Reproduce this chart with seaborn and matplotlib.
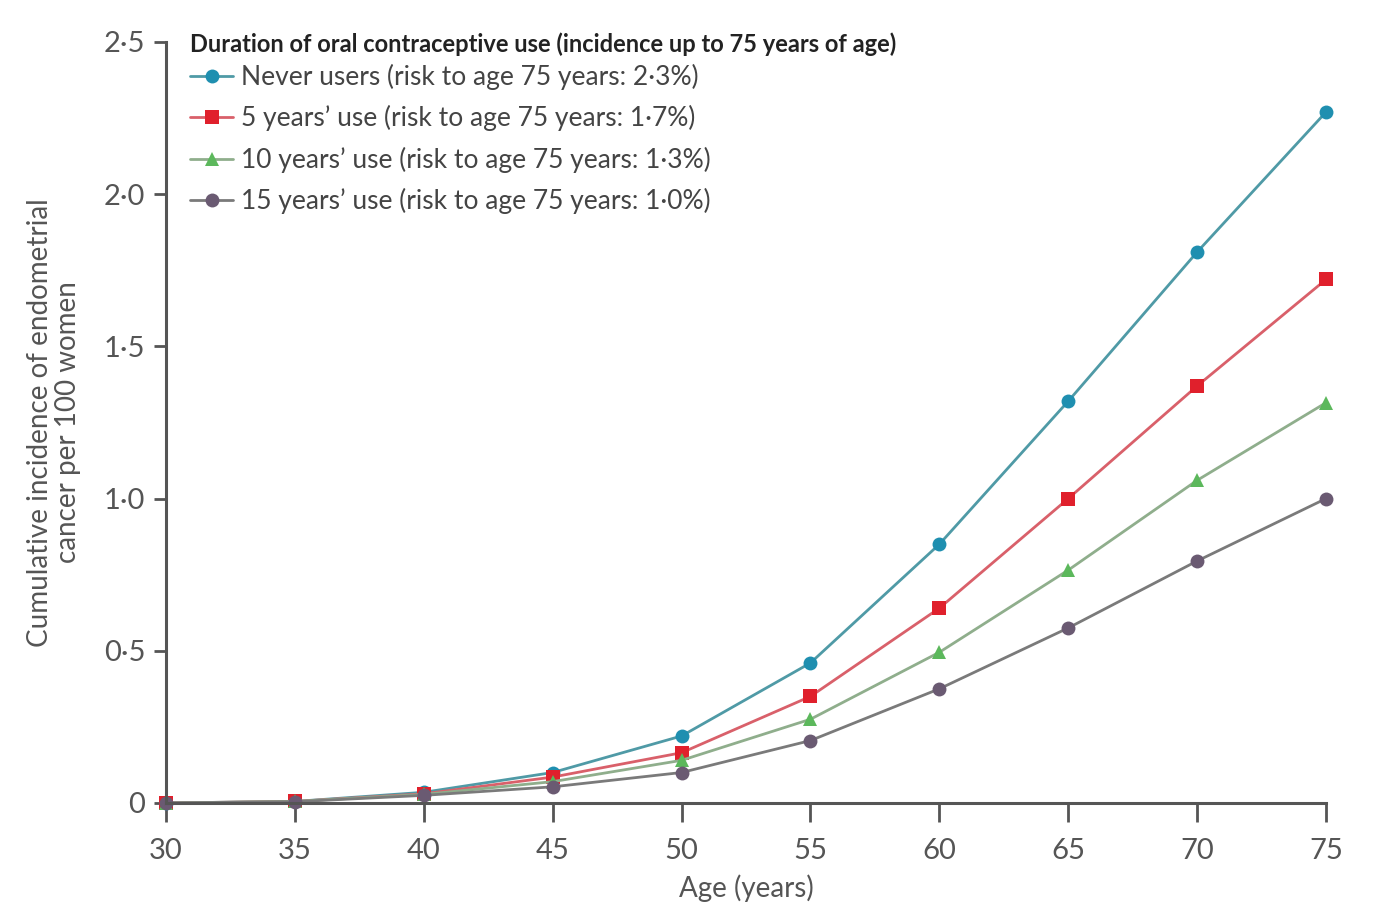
import matplotlib
matplotlib.use("Agg")
import matplotlib.pyplot as plt
import seaborn as sns
import pandas as pd

ages = [30, 35, 40, 45, 50, 55, 60, 65, 70, 75]
never_users = [0.0, 0.005, 0.035, 0.10, 0.22, 0.46, 0.85, 1.32, 1.81, 2.27]
use_5y = [0.0, 0.005, 0.03, 0.085, 0.165, 0.35, 0.64, 1.00, 1.37, 1.72]
use_10y = [0.0, 0.005, 0.028, 0.07, 0.14, 0.275, 0.495, 0.765, 1.06, 1.315]
use_15y = [0.0, 0.004, 0.025, 0.053, 0.10, 0.205, 0.375, 0.575, 0.795, 1.00]

series_labels = [
    "Never users (risk to age 75 years: 2·3%)",
    "5 years’ use (risk to age 75 years: 1·7%)",
    "10 years’ use (risk to age 75 years: 1·3%)",
    "15 years’ use (risk to age 75 years: 1·0%)",
]
legend_title = "Duration of oral contraceptive use (incidence up to 75 years of age)"
x_ticks = [30, 35, 40, 45, 50, 55, 60, 65, 70, 75]
y_ticks = [0.0, 0.5, 1.0, 1.5, 2.0, 2.5]
y_tick_labels = ["0", "0·5", "1·0", "1·5", "2·0", "2·5"]

rows = []
for lab, vals in zip(series_labels, [never_users, use_5y, use_10y, use_15y]):
    for a, v in zip(ages, vals):
        rows.append({"Age": a, "Incidence": v, "Group": lab})
df = pd.DataFrame(rows)

line_colors = ["#4f9aa6", "#d9606a", "#8fae8c", "#7a7a7a"]
marker_colors = ["#1f8fb0", "#e0202c", "#5cb85c", "#6a5a72"]
marker_shapes = ["o", "s", "^", "o"]

sns.set_theme(style="white")
plt.rcParams["font.family"] = ["Lato", "DejaVu Sans"]

fig = plt.figure(figsize=(13.75, 9.11), dpi=100)
ax = fig.add_axes([0.1207, 0.1186, 0.8437, 0.8353])

sns.lineplot(
    data=df, x="Age", y="Incidence", hue="Group", style="Group",
    hue_order=series_labels, style_order=series_labels,
    palette=dict(zip(series_labels, line_colors)),
    markers=dict(zip(series_labels, marker_shapes)),
    dashes=False, linewidth=2.0, markersize=10,
    markeredgewidth=0, ax=ax, legend=False,
)

for ln, mc in zip(ax.lines, marker_colors):
    ln.set_markerfacecolor(mc)
    ln.set_markeredgecolor(mc)
    ln.set_clip_on(False)

handles = []
for lab, lc, mc, mk in zip(series_labels, line_colors, marker_colors, marker_shapes):
    h, = ax.plot([], [], color=lc, lw=2.0, marker=mk, markersize=10,
                 markerfacecolor=mc, markeredgewidth=0, label=lab)
    handles.append(h)

leg = ax.legend(
    handles=handles, title=legend_title, loc="upper left",
    bbox_to_anchor=(0.012, 1.027), frameon=False, fontsize=19,
    title_fontproperties={"weight": "bold", "size": 17},
    handlelength=1.6, handletextpad=0.3, labelspacing=0.58,
    borderaxespad=0.0,
)
leg._legend_box.align = "left"
leg._legend_box.sep = 6
for t in leg.get_texts():
    t.set_color("#444444")
leg.get_title().set_color("#222222")

ax.set_xlim(30, 75)
ax.set_ylim(0, 2.5)
ax.set_xticks(x_ticks)
ax.set_xticklabels([str(v) for v in x_ticks])
ax.set_yticks(y_ticks)
ax.set_yticklabels(y_tick_labels)

ax.set_xlabel("Age (years)", fontsize=20, color="#555555", labelpad=8)
ax.set_ylabel("Cumulative incidence of endometrial\ncancer per 100 women",
              fontsize=20, color="#555555", labelpad=16, linespacing=1.1)

for side in ["top", "right"]:
    ax.spines[side].set_visible(False)
for side in ["left", "bottom"]:
    ax.spines[side].set_color("#555555")
    ax.spines[side].set_linewidth(2.2)

ax.tick_params(axis="both", which="major", direction="out", length=9,
               width=2, color="#555555", labelsize=21, labelcolor="#555555",
               bottom=True, left=True)
ax.tick_params(axis="x", pad=11, length=14)
ax.tick_params(axis="y", pad=6)

fig.savefig("out.png", dpi=100, facecolor="white")
